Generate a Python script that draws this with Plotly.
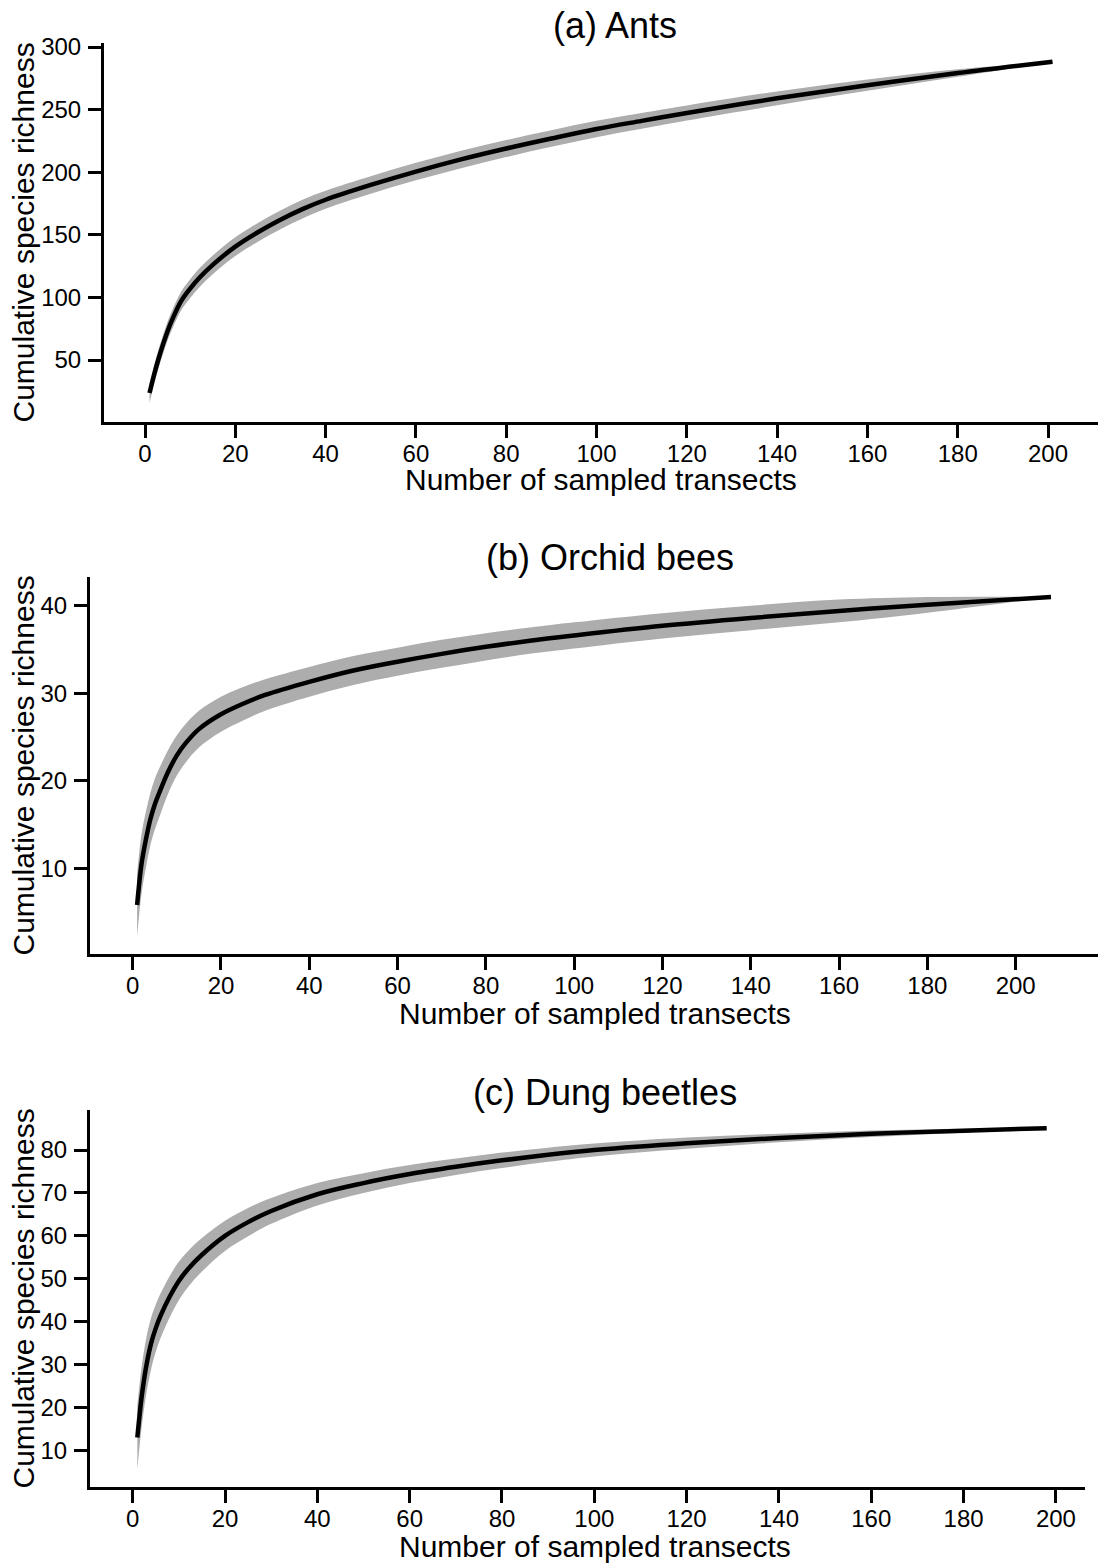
import plotly.graph_objects as go

# ---------------- data: rarefaction curves with confidence bands ----------------
# (a) Ants
ants_x = [1, 2, 3, 4, 5, 6, 8, 10, 12, 15, 20, 25, 30, 35, 40, 50, 60, 70, 80, 90,
          100, 110, 120, 140, 160, 180, 201]
ants_s = [23.6, 38, 51, 62.5, 73, 82, 97, 107, 115.5, 126, 140.5, 152, 162, 170.7, 178, 189.8,
          200.5, 210.2, 218.9, 226.9, 234.5, 241, 247.3, 259, 269.5, 279.2, 288.3]
ants_hw = [8, 7.5, 7.5, 7.5, 7.5, 7.5, 7.5, 7.5, 7.5, 7.5, 7.5, 7.5, 7.5, 7.5, 7.2, 7,
           7, 7, 6.8, 6.6, 6.5, 6.3, 6, 5.5, 4.5, 3, 0]

# (b) Orchid bees
bees_x = [1, 2, 3, 4, 5, 6, 8, 10, 12, 15, 20, 25, 30, 40, 50, 60, 70, 80, 90, 100,
          120, 140, 160, 180, 208]
bees_s = [5.8, 10.5, 13.3, 15.6, 17.3, 18.6, 21.0, 22.9, 24.3, 25.9, 27.6, 28.8, 29.8, 31.3,
          32.6, 33.6, 34.5, 35.3, 36.0, 36.6, 37.7, 38.6, 39.4, 40.1, 41.0]
bees_hw = [3.6, 3.4, 3.2, 3.0, 2.9, 2.8, 2.5, 2.3, 2.2, 2.1, 2.0, 1.9, 1.8, 1.7, 1.65, 1.6,
           1.6, 1.55, 1.5, 1.5, 1.45, 1.4, 1.3, 0.9, 0]

# (c) Dung beetles
beetles_x = [1, 2, 3, 4, 5, 6, 8, 10, 12, 15, 20, 25, 30, 40, 50, 60, 70, 80, 90, 100,
             120, 140, 160, 180, 198]
beetles_s = [13, 23, 30, 35, 38.5, 41.3, 45.8, 49.5, 52.3, 55.6, 60, 63.2, 65.8, 69.7, 72.3,
             74.4, 76.1, 77.6, 78.9, 80, 81.6, 82.8, 83.8, 84.5, 85.1]
beetles_hw = [7.4, 7, 6.5, 6, 5.5, 5.2, 4.8, 4.5, 4.2, 3.9, 3.5, 3.3, 3, 2.6, 2.3,
              2.1, 1.9, 1.8, 1.65, 1.5, 1.3, 1.0, 0.75, 0.45, 0]

panel_titles = ["(a) Ants", "(b) Orchid bees", "(c) Dung beetles"]
x_title = "Number of sampled transects"
y_title = "Cumulative species richness"

x_ticks = [0, 20, 40, 60, 80, 100, 120, 140, 160, 180, 200]
y_ticks_a = [50, 100, 150, 200, 250, 300]
y_ticks_b = [10, 20, 30, 40]
y_ticks_c = [10, 20, 30, 40, 50, 60, 70, 80]

# ---------------- layout geometry (pixels) ----------------
W, H = 1101, 1564
FONT = "Liberation Sans, Arial, Helvetica, sans-serif"
BAND = "#ADADAD"

panels = [
    dict(xd=(104, 1098), yd=(43, 422), xr=(-9.08, 211.07), yr=(0.48, 303.2),
         yt=y_ticks_a, x=ants_x, s=ants_s, hw=ants_hw,
         title_xy=(615, 25), xt_xy=(601, 480)),
    dict(xd=(90, 1098), yd=(577, 954), xr=(-9.67, 218.65), yr=(0.21, 43.28),
         yt=y_ticks_b, x=bees_x, s=bees_s, hw=bees_hw,
         title_xy=(610, 557), xt_xy=(595, 1013)),
    dict(xd=(90, 1085), yd=(1110, 1487), xr=(-9.25, 206.3), yr=(1.48, 89.33),
         yt=y_ticks_c, x=beetles_x, s=beetles_s, hw=beetles_hw,
         title_xy=(605, 1092), xt_xy=(595, 1546)),
]

fig = go.Figure()
layout = dict(width=W, height=H,
              margin=dict(l=0, r=0, t=0, b=0, pad=0, autoexpand=False),
              paper_bgcolor="white", plot_bgcolor="white", showlegend=False)
annotations = []

axis_common = dict(showline=True, linewidth=3, linecolor="black", ticks="outside",
                   ticklen=13, tickwidth=3, tickcolor="black", showgrid=False,
                   zeroline=False, tickfont=dict(family=FONT, size=24, color="black"),
                   fixedrange=True, automargin=False)

for i, p in enumerate(panels):
    n = "" if i == 0 else str(i + 1)
    xa, ya = "x" + n, "y" + n
    upper = [s + h for s, h in zip(p["s"], p["hw"])]
    lower = [s - h for s, h in zip(p["s"], p["hw"])]
    # confidence band
    fig.add_trace(go.Scatter(x=p["x"], y=upper, mode="lines",
                             line=dict(width=0, color=BAND, shape="spline"),
                             xaxis=xa, yaxis=ya, hoverinfo="skip"))
    fig.add_trace(go.Scatter(x=p["x"], y=lower, mode="lines",
                             line=dict(width=0, color=BAND, shape="spline"),
                             fill="tonexty", fillcolor=BAND, xaxis=xa, yaxis=ya,
                             hoverinfo="skip"))
    # mean curve
    fig.add_trace(go.Scatter(x=p["x"], y=p["s"], mode="lines",
                             line=dict(width=4.5, color="black", shape="spline"),
                             xaxis=xa, yaxis=ya))

    layout["xaxis" + n] = dict(axis_common, domain=[p["xd"][0] / W, p["xd"][1] / W],
                               range=list(p["xr"]), tickvals=x_ticks, anchor=ya,
                               ticklabelstandoff=-5)
    layout["yaxis" + n] = dict(axis_common, domain=[1 - p["yd"][1] / H, 1 - p["yd"][0] / H],
                               range=list(p["yr"]), tickvals=p["yt"], anchor=xa,
                               ticklabelstandoff=2)

    tx, ty = p["title_xy"]
    annotations.append(dict(text=panel_titles[i], x=tx / W, y=1 - ty / H, xref="paper",
                            yref="paper", showarrow=False, xanchor="center", yanchor="middle",
                            font=dict(family=FONT, size=36, color="black")))
    ax_, ay_ = p["xt_xy"]
    annotations.append(dict(text=x_title, x=ax_ / W, y=1 - ay_ / H, xref="paper",
                            yref="paper", showarrow=False, xanchor="center", yanchor="middle",
                            font=dict(family=FONT, size=30, color="black")))
    ymid = (p["yd"][0] + p["yd"][1]) / 2
    annotations.append(dict(text=y_title, x=23 / W, y=1 - ymid / H, xref="paper",
                            yref="paper", showarrow=False, xanchor="center", yanchor="middle",
                            textangle=-90, font=dict(family=FONT, size=30, color="black")))

layout["annotations"] = annotations
fig.update_layout(**layout)
fig.write_html("out.html", post_script="document.body.style.margin='0px';")
